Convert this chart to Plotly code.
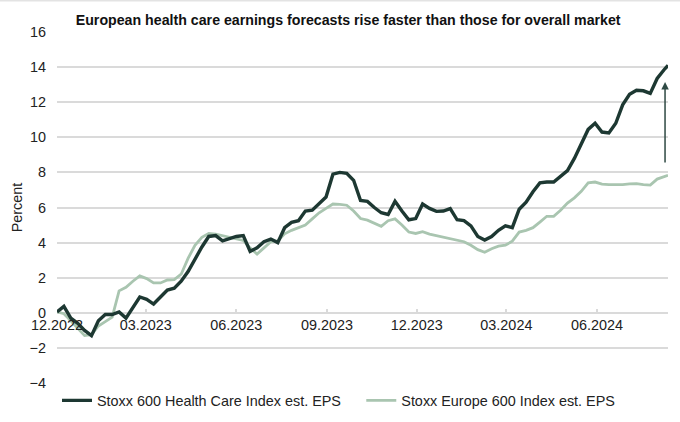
import pandas as pd
import plotly.graph_objects as go

title = "European health care earnings forecasts rise faster than those for overall market"
name_hc = "Stoxx 600 Health Care Index est. EPS"
name_mkt = "Stoxx Europe 600 Index est. EPS"

dates = list(pd.date_range("2022-12-01", "2024-08-08", freq="7D").strftime("%Y-%m-%d")) + ["2024-08-12"]

health_care = [
    0.05, 0.37, -0.30, -0.60, -1.00, -1.30, -0.45, -0.10, -0.10, 0.05,
    -0.30, 0.30, 0.90, 0.77, 0.50, 0.90, 1.30, 1.40, 1.80, 2.35,
    3.10, 3.75, 4.35, 4.40, 4.10, 4.25, 4.35, 4.40, 3.50, 3.70,
    4.05, 4.20, 4.00, 4.85, 5.15, 5.25, 5.80, 5.85, 6.20, 6.60,
    7.90, 8.00, 7.95, 7.55, 6.40, 6.35, 6.00, 5.70, 5.60, 6.35,
    5.80, 5.30, 5.37, 6.20, 5.95, 5.78, 5.80, 5.94, 5.30, 5.25,
    4.95, 4.35, 4.15, 4.35, 4.70, 4.95, 4.85, 5.90, 6.30, 6.90,
    7.40, 7.45, 7.45, 7.75, 8.10, 8.80, 9.60, 10.45, 10.80, 10.30,
    10.25, 10.80, 11.85, 12.45, 12.68, 12.65, 12.50, 13.35, 13.85, 14.10,
]

market = [
    0.05, -0.05, -0.45, -0.85, -1.30, -1.25, -0.75, -0.50, -0.25, 1.25,
    1.45, 1.80, 2.10, 1.95, 1.70, 1.70, 1.87, 1.89, 2.20, 3.10,
    3.85, 4.30, 4.52, 4.48, 4.38, 4.28, 4.22, 4.12, 3.70, 3.35,
    3.70, 4.05, 4.10, 4.50, 4.70, 4.85, 5.00, 5.35, 5.70, 5.95,
    6.20, 6.18, 6.13, 5.80, 5.37, 5.28, 5.10, 4.93, 5.25, 5.35,
    5.00, 4.60, 4.52, 4.62, 4.48, 4.40, 4.30, 4.24, 4.15, 4.05,
    3.85, 3.60, 3.45, 3.65, 3.80, 3.85, 4.08, 4.60, 4.70, 4.85,
    5.17, 5.50, 5.50, 5.84, 6.25, 6.55, 6.92, 7.40, 7.45, 7.33,
    7.30, 7.30, 7.30, 7.35, 7.36, 7.30, 7.28, 7.62, 7.75, 7.83,
]

tick_dates = ["2022-12-01", "2023-03-01", "2023-06-01", "2023-09-01",
              "2023-12-01", "2024-03-01", "2024-06-01"]
tick_labels = ["12.2022", "03.2023", "06.2023", "09.2023",
               "12.2023", "03.2024", "06.2024"]
y_ticks = [-4, -2, 0, 2, 4, 6, 8, 10, 12, 14, 16]

arrow_date = "2024-08-09"
arrow_to = 13.15
arrow_len_px = 82

dark = "#1d3832"
light = "#a9c5b0"
grid = "#dadada"
font = "Liberation Sans, Arial, sans-serif"
fs = 14.4

fig = go.Figure()
fig.add_trace(go.Scatter(x=dates, y=market, mode="lines", name=name_mkt,
                         line=dict(color=light, width=2.8), legend="legend2"))
fig.add_trace(go.Scatter(x=dates, y=health_care, mode="lines", name=name_hc,
                         line=dict(color=dark, width=3.4), legend="legend"))

fig.add_annotation(x=arrow_date, y=arrow_to, xref="x", yref="y",
                   ax=0, ay=arrow_len_px, text="",
                   showarrow=True, arrowhead=2, arrowsize=1, arrowwidth=1.5,
                   arrowcolor="#2f4a44")

leg_common = dict(orientation="h", y=-0.05, yanchor="middle", xanchor="left",
                  font=dict(size=fs, color="#222222"), itemwidth=30,
                  bgcolor="rgba(0,0,0,0)")

fig.update_layout(
    width=680, height=422,
    margin=dict(l=57, r=12, t=32, b=39, autoexpand=False),
    paper_bgcolor="white", plot_bgcolor="white",
    font=dict(family=font, size=fs, color="#222222"),
    title=dict(text="<b>" + title + "</b>", x=0.512, xanchor="center",
               y=0.952, yanchor="middle", font=dict(size=14.2, color="#111111")),
    showlegend=True,
    legend=dict(x=0.0, **leg_common),
    legend2=dict(x=0.498, **leg_common),
    xaxis=dict(type="date", range=["2022-12-01", "2024-08-12"],
               tickvals=tick_dates, ticktext=tick_labels,
               showgrid=False, zeroline=False, showline=False,
               anchor="free", position=0.2,
               ticks="inside", ticklen=4, tickcolor=grid, tickwidth=1.5,
               ticklabelstandoff=2,
               tickfont=dict(size=fs, color="#222222")),
    yaxis=dict(range=[-4, 16], tickvals=y_ticks, showgrid=True, gridcolor=grid,
               gridwidth=1.5, zeroline=False, showline=False,
               title=dict(text="Percent", standoff=3, font=dict(size=fs)),
               ticklabelstandoff=10, tickfont=dict(size=fs, color="#222222")),
    shapes=[dict(type="line", xref="paper", yref="paper", x0=-0.1, x1=1.1,
                 y0=1.089, y1=1.089, line=dict(color="#e3e3e3", width=1.5))],
)

fig.write_html("out.html", config={"displayModeBar": False},
               post_script="document.body.style.margin='0';")
